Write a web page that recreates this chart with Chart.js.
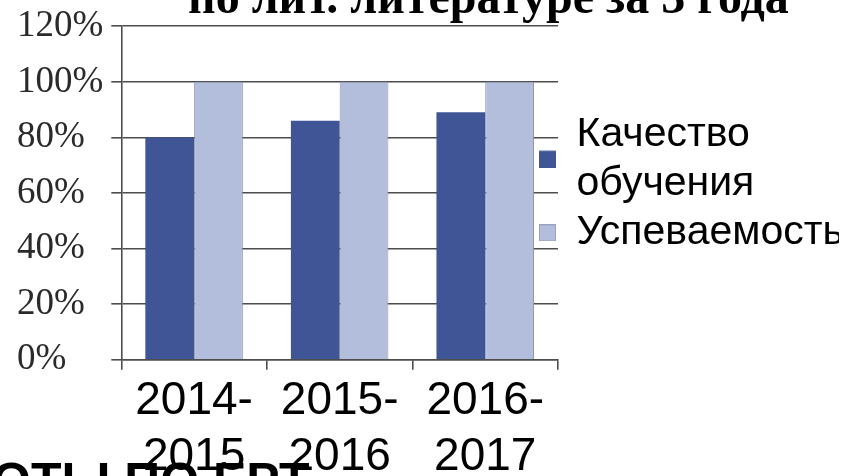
<!DOCTYPE html>
<html lang="ru">
<head>
<meta charset="utf-8">
<script src="https://cdn.jsdelivr.net/npm/chart.js@4.4.0/dist/chart.umd.min.js"></script>
<style>
  html, body { margin: 0; padding: 0; background: #fff; }
  #wrap { width: 858px; height: 476px; }
</style>
</head>
<body>
<div id="wrap"><canvas id="chart"></canvas></div>
<script>
// data
const YEARS = [["2014-", "2015"], ["2015-", "2016"], ["2016-", "2017"]];
const QUALITY = [80, 86, 89];
const PROGRESS = [100, 100, 100];
const QUALITY_NAME = ["Качество", "обучения"];
const PROGRESS_NAME = "Успеваемость";
const Y_MIN = 0;
const Y_MAX = 120;
const Y_STEP = 20;
const TITLE = "по лит. литературе за 3 года";
const FOOTER = "ОТЫ ПО ЕРТ";

const DARK = "#3f5596";
const LIGHT = "#b3bedd";
const GRID = "#4d4d4d";
const LEGEND_FONT = 41;
const BOX = 17;

// legend square; a two-line label gets its square between the lines
function marker(fill, stroke, lines) {
  const drop = ((lines - 1) * LEGEND_FONT * 1.2) / 2;
  const c = document.createElement("canvas");
  c.width = BOX;
  c.height = BOX + 2 * drop;
  const g = c.getContext("2d");
  g.fillStyle = fill;
  g.fillRect(0, 2 * drop, BOX, BOX);
  if (stroke) {
    g.strokeStyle = stroke;
    g.lineWidth = 1;
    g.strokeRect(0.5, 2 * drop + 0.5, BOX - 1, BOX - 1);
  }
  return c;
}

const MARKERS = [marker(DARK, null, QUALITY_NAME.length), marker(LIGHT, "#9aa3bf", 1)];

// slide text cut by the picture edges
const slideText = {
  id: "slideText",
  afterDraw(chart) {
    const ctx = chart.ctx;
    ctx.save();
    ctx.fillStyle = "#000";
    ctx.textBaseline = "alphabetic";
    ctx.textAlign = "left";
    ctx.font = "bold 48px 'Liberation Serif'";
    ctx.fillText(TITLE, 188, 13);
    ctx.font = "bold 50px 'Liberation Sans'";
    ctx.fillText(FOOTER, -8, 498);
    ctx.restore();
  },
};

// legend sits a little over the plot's right edge
const legendNudge = {
  id: "legendNudge",
  afterLayout(chart) {
    chart.legend.left -= 19;
    chart.legend.right -= 19;
  },
};

const ctx = document.getElementById("chart");
new Chart(ctx, {
  type: "bar",
  data: {
    labels: YEARS,
    datasets: [
      {
        label: QUALITY_NAME,
        data: QUALITY,
        backgroundColor: DARK,
        borderWidth: 0,
      },
      {
        label: PROGRESS_NAME,
        data: PROGRESS,
        backgroundColor: LIGHT,
        borderColor: "#8e97b3",
        borderWidth: 1,
      },
    ],
  },
  options: {
    responsive: true,
    maintainAspectRatio: false,
    animation: false,
    categoryPercentage: 0.67,
    barPercentage: 1,
    layout: { padding: { left: 17, top: 24, right: 0, bottom: -12 } },
    plugins: {
      title: { display: false },
      tooltip: { enabled: false },
      legend: {
        position: "right",
        align: "start",
        maxWidth: 300,
        title: {
          display: true,
          text: " ",
          font: { size: 10, lineHeight: 1 },
          padding: { top: 80, bottom: 0 },
        },
        labels: {
          color: "#000",
          font: { family: "'Liberation Sans', Arial", size: LEGEND_FONT },
          boxWidth: BOX,
          boxHeight: BOX,
          padding: 0,
          usePointStyle: true,
          generateLabels: (chart) =>
            Chart.defaults.plugins.legend.labels
              .generateLabels(chart)
              .map((item, i) => ({ ...item, pointStyle: MARKERS[i] })),
        },
      },
    },
    scales: {
      x: {
        grid: {
          offset: true,
          drawOnChartArea: false,
          tickLength: 10,
          color: GRID,
          lineWidth: 1.6,
        },
        border: { color: GRID, width: 1.6 },
        ticks: {
          color: "#000",
          padding: 3,
          font: { family: "'Liberation Sans', Arial", size: 46, lineHeight: 1.22 },
        },
      },
      y: {
        min: Y_MIN,
        max: Y_MAX,
        grid: { color: GRID, lineWidth: 1.6, tickLength: 10 },
        border: { color: GRID, width: 1.6 },
        ticks: {
          stepSize: Y_STEP,
          crossAlign: "far",
          padding: 4,
          color: "#2a2a2a",
          font: { family: "'Liberation Serif', 'Times New Roman'", size: 37 },
          callback: (v) => v + "%",
        },
      },
    },
  },
  plugins: [slideText, legendNudge],
});
</script>
</body>
</html>
